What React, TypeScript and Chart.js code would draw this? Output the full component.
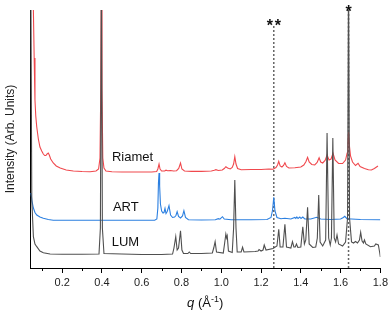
import { useEffect, useRef } from 'react';
import { Chart, registerables } from 'chart.js';

Chart.register(...registerables);

// q (Å⁻¹) axis
const qMin = 0.038;
const qMax = 1.8;
const minorTicks = [0.1, 0.3, 0.5, 0.7, 0.9, 1.1, 1.3, 1.5, 1.7];

// traces as [q, intensity incl. offset] (arbitrary units)
const riamet: [number, number][] = [
  [0.045, 300], [0.055, 258], [0.059, 210], [0.063, 168], [0.067, 152], [0.072, 141], [0.08, 129], [0.088, 121],
  [0.097, 117], [0.105, 114], [0.112, 112.5], [0.118, 112.5], [0.124, 114], [0.13, 115], [0.135, 113], [0.142, 109],
  [0.155, 105], [0.17, 102], [0.19, 100], [0.22, 98], [0.256, 97], [0.3, 96.5], [0.34, 96.3], [0.37, 97], [0.383, 99],
  [0.39, 110], [0.394, 180], [0.397, 300], [0.4, 180], [0.404, 110], [0.41, 100], [0.42, 97], [0.45, 96.3], [0.5, 96],
  [0.55, 96], [0.6, 96], [0.65, 96], [0.675, 96.5], [0.681, 99], [0.687, 104], [0.692, 99], [0.7, 97], [0.715, 97],
  [0.722, 97.8], [0.73, 97.2], [0.745, 97.5], [0.76, 97], [0.775, 97.3], [0.786, 99.5], [0.795, 105], [0.802, 99],
  [0.815, 97], [0.85, 96.6], [0.9, 96.6], [0.95, 97], [0.965, 97.8], [0.973, 98.3], [0.985, 97.5], [1.005, 98],
  [1.015, 99.5], [1.023, 101.3], [1.032, 100], [1.045, 99], [1.055, 100.5], [1.062, 104], [1.068, 111.3], [1.074, 104],
  [1.082, 99.5], [1.1, 98.3], [1.15, 98.5], [1.2, 98.5], [1.24, 99], [1.26, 98.8], [1.275, 100.5], [1.283, 103],
  [1.289, 106.7], [1.296, 102], [1.305, 101], [1.313, 102.5], [1.32, 105.3], [1.328, 101.5], [1.34, 100], [1.37, 100.3],
  [1.4, 101], [1.415, 103], [1.426, 106.5], [1.434, 110.7], [1.442, 106], [1.455, 103.5], [1.47, 103], [1.482, 105.5],
  [1.492, 110.3], [1.5, 106], [1.51, 105], [1.522, 107.5], [1.532, 113], [1.542, 108], [1.552, 109], [1.562, 114.7],
  [1.572, 108], [1.59, 104.5], [1.61, 104.5], [1.625, 108], [1.633, 115], [1.637, 125], [1.64, 136], [1.644, 123],
  [1.65, 112], [1.66, 106], [1.675, 102.5], [1.688, 104.7], [1.698, 101.5], [1.72, 99.5], [1.74, 98.2], [1.755, 98],
  [1.77, 99.5], [1.788, 102],
];

const art: [number, number][] = [
  [0.043, 75], [0.048, 67], [0.055, 60], [0.063, 55.5], [0.072, 53], [0.088, 51], [0.105, 49.7], [0.13, 48.5],
  [0.155, 47.8], [0.2, 47.8], [0.3, 47.8], [0.4, 47.8], [0.5, 47.8], [0.6, 47.8], [0.665, 47.8], [0.676, 49],
  [0.681, 60], [0.684, 85], [0.687, 95], [0.69, 82], [0.694, 64], [0.7, 57], [0.707, 55], [0.712, 55.5], [0.717, 59.7],
  [0.722, 54.5], [0.728, 56.5], [0.737, 62.3], [0.745, 53], [0.755, 50.5], [0.765, 51], [0.772, 52.5], [0.778, 56.3],
  [0.785, 51.5], [0.795, 50], [0.805, 52], [0.812, 57.3], [0.82, 50.5], [0.835, 48.3], [0.9, 48], [0.97, 48.3],
  [0.985, 49.3], [0.993, 48.8], [1.006, 51.3], [1.015, 49], [1.05, 48.3], [1.15, 48.3], [1.23, 48.5], [1.25, 50.5],
  [1.258, 58], [1.264, 70.7], [1.27, 57], [1.28, 50.5], [1.3, 49.3], [1.32, 49.8], [1.35, 49], [1.37, 50.5],
  [1.375, 49.5], [1.38, 51], [1.386, 49.5], [1.395, 51], [1.401, 49.5], [1.41, 51], [1.42, 49], [1.45, 49],
  [1.48, 50.7], [1.5, 49], [1.55, 48.5], [1.6, 49], [1.614, 50.5], [1.621, 51.7], [1.632, 49.3], [1.7, 48.5], [1.8, 48.3],
];

const lum: [number, number][] = [
  [0.042, 300], [0.047, 68], [0.055, 31.3], [0.063, 24], [0.072, 21.3], [0.088, 17], [0.105, 15.3], [0.139, 14],
  [0.2, 13.8], [0.3, 13.8], [0.385, 14], [0.392, 40], [0.397, 300], [0.402, 40], [0.41, 14.5], [0.5, 14], [0.6, 13.5],
  [0.7, 13.5], [0.755, 14], [0.762, 20], [0.771, 31.3], [0.778, 18], [0.785, 20], [0.795, 37.3], [0.802, 18],
  [0.81, 14.5], [0.832, 14.5], [0.839, 16], [0.846, 14.5], [0.9, 14.5], [0.955, 15], [0.962, 20], [0.969, 26.3],
  [0.976, 16], [1.01, 15], [1.017, 25], [1.023, 34], [1.027, 30], [1.03, 32], [1.036, 17], [1.055, 15.5], [1.062, 40],
  [1.068, 88], [1.074, 40], [1.08, 16], [1.1, 16], [1.107, 20.7], [1.114, 16], [1.17, 16.5], [1.185, 17], [1.19, 18.5],
  [1.2, 17], [1.21, 18], [1.216, 23], [1.225, 18], [1.26, 19.5], [1.28, 22], [1.289, 38.7], [1.296, 21], [1.31, 21],
  [1.32, 43.7], [1.328, 21], [1.35, 20], [1.358, 26.3], [1.365, 21], [1.372, 21], [1.378, 24], [1.385, 20.5], [1.4, 21],
  [1.41, 41.3], [1.418, 24], [1.425, 28], [1.434, 60.7], [1.442, 24], [1.46, 20.5], [1.475, 21], [1.483, 30],
  [1.49, 73], [1.497, 26], [1.51, 22], [1.525, 28], [1.532, 135], [1.54, 30], [1.548, 23], [1.554, 30], [1.561, 130],
  [1.568, 30], [1.575, 26], [1.582, 33], [1.59, 24], [1.61, 22], [1.625, 26], [1.635, 50], [1.64, 300], [1.645, 50],
  [1.655, 26], [1.665, 25], [1.675, 26.5], [1.685, 25], [1.695, 28], [1.701, 35.7], [1.708, 27], [1.715, 25],
  [1.72, 28], [1.727, 24], [1.75, 21.3], [1.77, 22], [1.777, 24], [1.79, 23], [1.797, 15], [1.8, 11],
];

// trace name labels and their anchor (q, intensity)
const traceLabels = ['Riamet', 'ART', 'LUM'];
const labelQ = [0.45, 0.455, 0.449];
const labelV = [111, 61, 26];

// reference-peak markers
const markerQ = [1.264, 1.64];
const markerTop = [243, 256];
const markerText = ['**', '*'];
const markerTextV = [237, 251];

const FONT = '"Liberation Sans", Arial, sans-serif';
const RED = '#f0484d';
const BLUE = '#2b7fe0';
const GRAY = '#4f4f4f';

const toXY = (arr: [number, number][]) => arr.map(([x, y]) => ({ x, y }));

const annotPlugin = {
  id: 'annot',
  afterDraw(chart: any) {
    const { ctx, chartArea } = chart;
    const x = chart.scales.x;
    const y = chart.scales.y;
    ctx.save();
    // minor ticks
    ctx.strokeStyle = '#000';
    ctx.lineWidth = 1;
    minorTicks.forEach((v) => {
      const px = Math.round(x.getPixelForValue(v)) + 0.5;
      ctx.beginPath();
      ctx.moveTo(px, chartArea.bottom);
      ctx.lineTo(px, chartArea.bottom + 3);
      ctx.stroke();
    });
    // trace labels
    ctx.fillStyle = '#111';
    ctx.font = `13px ${FONT}`;
    ctx.textAlign = 'left';
    ctx.textBaseline = 'middle';
    traceLabels.forEach((t, i) => {
      ctx.fillText(t, x.getPixelForValue(labelQ[i]), y.getPixelForValue(labelV[i]));
    });
    // asterisks
    ctx.font = `bold 16px ${FONT}`;
    ctx.textAlign = 'center';
    ctx.textBaseline = 'alphabetic';
    markerText.forEach((t, i) => {
      const s = t.split('');
      const gap = 8;
      const x0 = x.getPixelForValue(markerQ[i]) - ((s.length - 1) * gap) / 2;
      s.forEach((c, k) => ctx.fillText(c, x0 + k * gap, y.getPixelForValue(markerTextV[i])));
    });
    // x-axis title: q (Å⁻¹)
    const parts = [
      { t: 'q', f: `italic 13px ${FONT}`, dy: 0 },
      { t: ' (Å', f: `13px ${FONT}`, dy: 0 },
      { t: '-1', f: `9px ${FONT}`, dy: -5 },
      { t: ')', f: `13px ${FONT}`, dy: 0 },
    ];
    let total = 0;
    const widths = parts.map((p) => {
      ctx.font = p.f;
      const w = ctx.measureText(p.t).width;
      total += w;
      return w;
    });
    let cx = (chartArea.left + chartArea.right) / 2 - total / 2;
    const by = chartArea.bottom + 39;
    ctx.textAlign = 'left';
    ctx.fillStyle = '#111';
    parts.forEach((p, i) => {
      ctx.font = p.f;
      ctx.fillText(p.t, cx, by + p.dy);
      cx += widths[i];
    });
    ctx.restore();
  },
};

export default function App() {
  const ref = useRef<HTMLCanvasElement>(null);
  useEffect(() => {
    document.body.style.margin = '0';
    Chart.defaults.font.family = FONT;
    const markerSets = markerQ.map((q, i) => ({
      label: markerText[i],
      data: [{ x: q, y: 0 }, { x: q, y: markerTop[i] }],
      borderColor: '#666',
      borderWidth: 1.5,
      borderDash: [2, 2],
      pointRadius: 0,
      tension: 0,
    }));
    const chart = new Chart(ref.current as HTMLCanvasElement, {
      type: 'line',
      data: {
        datasets: [
          { label: 'LUM', data: toXY(lum), borderColor: GRAY, borderWidth: 1.1, pointRadius: 0, tension: 0 },
          { label: 'ART', data: toXY(art), borderColor: BLUE, borderWidth: 1.1, pointRadius: 0, tension: 0 },
          { label: 'Riamet', data: toXY(riamet), borderColor: RED, borderWidth: 1.1, pointRadius: 0, tension: 0 },
          ...markerSets,
        ] as any,
      },
      options: {
        animation: false,
        responsive: true,
        maintainAspectRatio: false,
        events: [],
        layout: { padding: { top: 10, right: 10, left: 0, bottom: 0 } },
        plugins: { legend: { display: false }, tooltip: { enabled: false } },
        scales: {
          x: {
            type: 'linear',
            min: qMin,
            max: qMax,
            border: { display: true, color: '#000', width: 1 },
            grid: { display: true, drawOnChartArea: false, drawTicks: true, tickLength: 5, color: '#000' },
            ticks: {
              stepSize: 0.2,
              includeBounds: false,
              color: '#222',
              font: { size: 11 },
              padding: 3,
              maxRotation: 0,
              autoSkip: false,
              callback: (v: any) => Number(v).toFixed(1),
            },
            afterFit: (s: any) => {
              s.height = 47;
            },
          },
          y: {
            type: 'linear',
            min: 0,
            max: 258,
            border: { display: true, color: '#000', width: 1 },
            grid: { display: false },
            ticks: { display: false },
            title: {
              display: true,
              text: 'Intensity (Arb. Units)',
              color: '#222',
              font: { size: 12 },
              padding: { top: 3, bottom: 0 },
            },
            afterFit: (s: any) => {
              s.width = 30;
            },
          },
        },
      } as any,
      plugins: [annotPlugin],
    });
    return () => chart.destroy();
  }, []);
  return (
    <div style={{ width: 391, height: 315, position: 'relative' }}>
      <canvas ref={ref} />
    </div>
  );
}
